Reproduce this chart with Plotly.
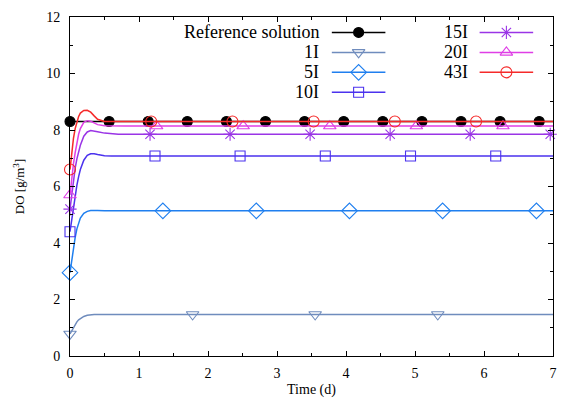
import plotly.graph_objects as go

# ---------------- data ----------------
t_curve = [0, 0.025, 0.05, 0.075, 0.1, 0.125, 0.15, 0.2, 0.25, 0.3, 0.35, 0.4, 0.5, 0.6, 0.7, 0.8, 1.0, 7.0]

ref_t = [0, 7.0]
ref_y = [8.3, 8.3]
y_1I = [0.78, 0.9, 1.02, 1.12, 1.21, 1.28, 1.33, 1.4, 1.44, 1.46, 1.47, 1.47, 1.47, 1.47, 1.47, 1.47, 1.47, 1.47]
y_5I = [2.95, 3.4, 3.85, 4.2, 4.5, 4.72, 4.88, 5.05, 5.12, 5.15, 5.16, 5.15, 5.14, 5.14, 5.14, 5.14, 5.14, 5.14]
y_10I = [4.4, 4.85, 5.3, 5.7, 6.05, 6.35, 6.6, 6.93, 7.1, 7.16, 7.16, 7.13, 7.09, 7.08, 7.08, 7.08, 7.08, 7.08]
y_15I = [5.2, 5.75, 6.25, 6.65, 6.98, 7.25, 7.46, 7.78, 7.93, 7.98, 7.97, 7.94, 7.89, 7.86, 7.85, 7.85, 7.85, 7.85]
y_20I = [5.7, 6.3, 6.8, 7.2, 7.55, 7.85, 8.05, 8.27, 8.33, 8.31, 8.25, 8.19, 8.15, 8.14, 8.14, 8.14, 8.14, 8.14]
y_43I = [6.6, 7.2, 7.7, 8.05, 8.3, 8.48, 8.6, 8.69, 8.7, 8.63, 8.5, 8.38, 8.3, 8.29, 8.3, 8.3, 8.3, 8.3]

# point markers (sampled output points)
mk_ref_t = [0, 0.567, 1.133, 1.7, 2.267, 2.833, 3.4, 3.967, 4.533, 5.1, 5.667, 6.233, 6.8]
mk_ref_y = [8.3] * 13
mk_1I_t = [0, 1.777, 3.553, 5.33]
mk_1I_y = [0.78, 1.47, 1.47, 1.47]
mk_5I_t = [0, 1.346, 2.70, 4.05, 5.40, 6.76]
mk_5I_y = [2.95, 5.14, 5.14, 5.14, 5.14, 5.14]
mk_10I_t = [0, 1.232, 2.465, 3.70, 4.935, 6.17]
mk_10I_y = [4.4, 7.08, 7.08, 7.08, 7.08, 7.08]
mk_15I_t = [0, 1.16, 2.32, 3.48, 4.64, 5.80, 6.96]
mk_15I_y = [5.2, 7.85, 7.85, 7.85, 7.85, 7.85, 7.85]
mk_20I_t = [0, 1.255, 2.51, 3.765, 5.02, 6.275]
mk_20I_y = [5.7, 8.14, 8.14, 8.14, 8.14, 8.14]
mk_43I_t = [0, 1.177, 2.354, 3.531, 4.708, 5.885]
mk_43I_y = [6.6, 8.3, 8.3, 8.3, 8.3, 8.3]

names = ["Reference solution", "1I", "5I", "10I", "15I", "20I", "43I"]
colors = ["#000000", "#6f8cbd", "#1f7fef", "#4b32ee", "#9a34e6", "#df3fe6", "#f52a2a"]
symbols = ["circle", "triangle-down-open", "diamond-open", "square-open", "asterisk-open", "triangle-up-open", "circle-open"]
msizes = [10, 11, 12, 10, 11, 11, 11]

curves = [(ref_t, ref_y), (t_curve, y_1I), (t_curve, y_5I), (t_curve, y_10I),
          (t_curve, y_15I), (t_curve, y_20I), (t_curve, y_43I)]
markers = [(mk_ref_t, mk_ref_y), (mk_1I_t, mk_1I_y), (mk_5I_t, mk_5I_y), (mk_10I_t, mk_10I_y),
           (mk_15I_t, mk_15I_y), (mk_20I_t, mk_20I_y), (mk_43I_t, mk_43I_y)]

FONT = "Liberation Serif"

fig = go.Figure()
for i, name in enumerate(names):
    cx, cy = curves[i]
    mx, my = markers[i]
    fig.add_trace(go.Scatter(x=cx, y=cy, mode="lines", name=name,
                             line=dict(color=colors[i], width=1.5), showlegend=False,
                             hoverinfo="skip"))
    fig.add_trace(go.Scatter(x=mx, y=my, mode="markers", name=name, showlegend=False,
                             cliponaxis=False,
                             marker=dict(symbol=symbols[i], size=msizes[i], color=colors[i],
                                         line=dict(color=colors[i], width=1.1))))

# ---------------- manual gnuplot-style legend (pixel overlay axes) ----------------
PL, PR, PT, PB = 70, 557, 17, 357
leg_rows_y = [32.5, 52.5, 72.5, 92.5]
col1 = dict(text_x=322, x0=334, x1=388, xm=361)
col2 = dict(text_x=472, x0=483, x1=537, xm=510)
layout_slots = [(col1, 0), (col1, 1), (col1, 2), (col1, 3), (col2, 0), (col2, 1), (col2, 2)]
annotations = []
for i, name in enumerate(names):
    col, r = layout_slots[i]
    yy = leg_rows_y[r]
    fig.add_trace(go.Scatter(x=[col["x0"], col["x1"]], y=[yy, yy], mode="lines",
                             line=dict(color=colors[i], width=1.5), xaxis="x2", yaxis="y2",
                             showlegend=False, hoverinfo="skip"))
    fig.add_trace(go.Scatter(x=[col["xm"]], y=[yy], mode="markers",
                             marker=dict(symbol=symbols[i], size=msizes[i], color=colors[i],
                                         line=dict(color=colors[i], width=1.1)),
                             xaxis="x2", yaxis="y2", showlegend=False, hoverinfo="skip"))
    annotations.append(dict(x=col["text_x"], y=yy, xref="x2", yref="y2", text=name,
                            showarrow=False, xanchor="right", yanchor="middle",
                            borderpad=0,
                            font=dict(family=FONT, size=18, color="#000000")))

fig.update_layout(
    width=563, height=401,
    margin=dict(l=PL, r=563 - PR, t=PT, b=401 - PB),
    paper_bgcolor="white", plot_bgcolor="white",
    font=dict(family=FONT, size=14, color="#000000"),
    showlegend=False,
    annotations=annotations,
    xaxis=dict(range=[0, 7], dtick=1, tick0=0, showline=True, linecolor="black", linewidth=1,
               mirror="ticks", ticks="inside", ticklen=5, tickcolor="black", showgrid=False,
               zeroline=False, tickfont=dict(family=FONT, size=14), ticklabelstandoff=4,
               minor=dict(dtick=0.5, ticks="inside", ticklen=3, tickcolor="black"),
               title=dict(text="Time (d)", font=dict(family=FONT, size=14), standoff=4)),
    yaxis=dict(range=[0, 12], dtick=2, tick0=0, showline=True, linecolor="black", linewidth=1,
               mirror="ticks", ticks="inside", ticklen=5, tickcolor="black", showgrid=False,
               zeroline=False, tickfont=dict(family=FONT, size=14), ticklabelstandoff=6,
               minor=dict(dtick=1, ticks="inside", ticklen=3, tickcolor="black"),
               title=dict(text="DO [g/m<sup>3</sup>]", font=dict(family=FONT, size=13), standoff=18)),
    xaxis2=dict(range=[PL, PR], overlaying="x", visible=False, fixedrange=True),
    yaxis2=dict(range=[PB, PT], overlaying="y", visible=False, fixedrange=True),
)

fig.write_html("out.html")
